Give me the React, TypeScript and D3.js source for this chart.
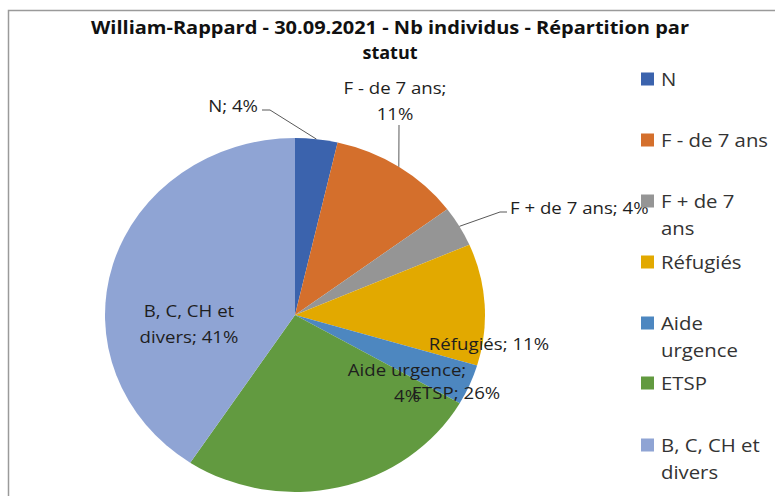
import React from "react";
import * as d3 from "d3";

const categories = ["N", "F - de 7 ans", "F + de 7 ans", "Réfugiés", "Aide urgence", "ETSP", "B, C, CH et divers"];
const values = [3.6, 11.2, 3.7, 11.1, 3.7, 26.0, 40.7];
const colors = ["#3b63ad", "#d46f2c", "#959595", "#e2a900", "#4d87c0", "#629a40", "#8fa4d4"];
const legendLines = [["N"], ["F - de 7 ans"], ["F + de 7", "ans"], ["Réfugiés"], ["Aide", "urgence"], ["ETSP"], ["B, C, CH et", "divers"]];

const W = 775, H = 496;
const cx = 295, cy = 315, rx = 190, ry = 177;
const FONT = "'Open Sans', 'Noto Sans', sans-serif";
const SX = 1.13;

const labelLayout: { lines: string[]; x: number; y: number; anchor: string; leader?: [number, number][] }[] = [
  { lines: ["N; 4%"], x: 258, y: 105, anchor: "end", leader: [[262, 110], [270, 110]] },
  { lines: ["F - de 7 ans;", "11%"], x: 395, y: 87, anchor: "middle", leader: [[399, 125]] },
  { lines: ["F + de 7 ans; 4%"], x: 510, y: 207, anchor: "start", leader: [[507, 212], [500, 212]] },
  { lines: ["Réfugiés; 11%"], x: 489, y: 343, anchor: "middle" },
  { lines: ["Aide urgence;", "4%"], x: 407, y: 369, anchor: "middle" },
  { lines: ["ETSP; 26%"], x: 456, y: 392, anchor: "middle" },
  { lines: ["B, C, CH et", "divers; 41%"], x: 189, y: 310, anchor: "middle" },
];

function SText({ x, y, lines, step, anchor, size, fill }: any) {
  return (
    <g transform={`translate(${x},${y}) scale(${SX},1)`}>
      <text fontFamily={FONT} fontSize={size} fill={fill} textAnchor={anchor} dominantBaseline="central">
        {lines.map((s: string, j: number) => (
          <tspan key={j} x={0} y={j * step}>{s}</tspan>
        ))}
      </text>
    </g>
  );
}

export default function App() {
  const data = categories.map((c, i) => ({ c, v: values[i], i }));
  const pie = d3.pie<any>().sort(null).value((d) => d.v).startAngle(0).endAngle(2 * Math.PI);
  const arcs = pie(data);
  const arc = d3.arc<any>().innerRadius(0).outerRadius(ry);
  const sx = rx / ry;

  const edgePoint = (a: d3.PieArcDatum<any>) => {
    const m = (a.startAngle + a.endAngle) / 2;
    return [cx + rx * Math.sin(m), cy - ry * Math.cos(m)];
  };

  const legendY = [79, 140, 201, 262, 323, 383, 445];

  return (
    <svg width={W} height={H} style={{ position: "absolute", left: 0, top: 0, background: "#fff" }}>
      <rect x={0} y={0} width={W} height={H} fill="#fff" />
      <path d={`M8.5,${H} L8.5,10.5 L${W},10.5`} fill="none" stroke="#9a9a9a" strokeWidth={1.5} />
      <text x={390} y={34} textAnchor="middle" fontFamily={FONT} fontWeight="bold" fontSize={18} fill="#111"
        textLength={598} lengthAdjust="spacingAndGlyphs">
        William-Rappard  - 30.09.2021 - Nb individus  - Répartition par
      </text>
      <text x={390} y={59} textAnchor="middle" fontFamily={FONT} fontWeight="bold" fontSize={18} fill="#111">
        statut
      </text>
      <g transform={`translate(${cx},${cy}) scale(${sx},1)`}>
        {arcs.map((a, i) => (
          <path key={i} d={arc(a) as string} fill={colors[i]} />
        ))}
      </g>
      {labelLayout.map((l, i) => {
        if (!l.leader) return null;
        const p = edgePoint(arcs[i]);
        const pts = [...l.leader, p];
        return (
          <polyline key={"ld" + i} points={pts.map((q) => q.join(",")).join(" ")} fill="none" stroke="#595959" strokeWidth={1} />
        );
      })}
      {labelLayout.map((l, i) => (
        <SText key={"lb" + i} x={l.x} y={l.y} lines={l.lines} step={26} anchor={l.anchor} size={16.5} fill="#1e1e1e" />
      ))}
      {categories.map((c, i) => (
        <g key={"lg" + i}>
          <rect x={641} y={legendY[i] - 6.5} width={13} height={13} fill={colors[i]} />
          <SText x={661} y={legendY[i]} lines={legendLines[i]} step={27} anchor="start" size={18} fill="#333" />
        </g>
      ))}
    </svg>
  );
}
